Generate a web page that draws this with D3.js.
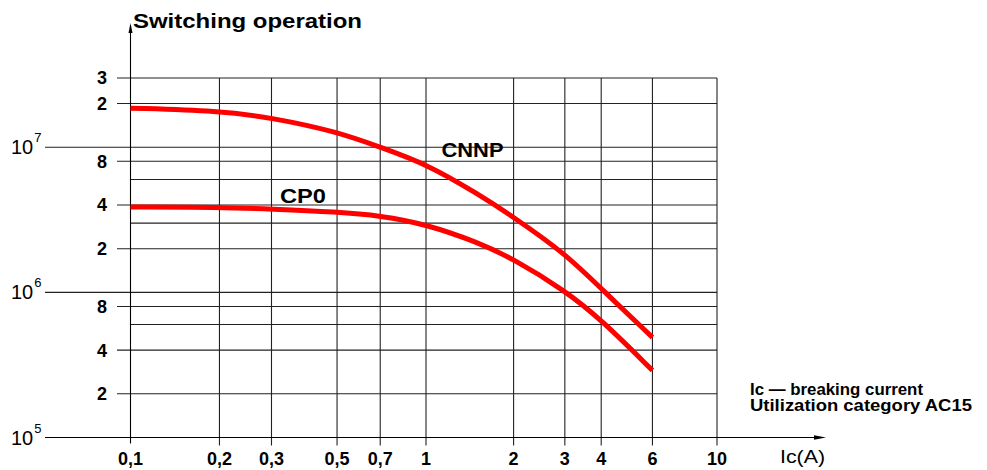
<!DOCTYPE html>
<html>
<head>
<meta charset="utf-8">
<script src="https://cdn.jsdelivr.net/npm/d3@7"></script>
<style>
  html, body { margin: 0; padding: 0; background: #fff; }
  svg { display: block; }
  text { font-family: "Liberation Sans", Arial, sans-serif; fill: #000; }
</style>
</head>
<body>
<svg id="chart" width="987" height="470"></svg>
<script>
// Breaking current Ic (A) at which the curves are sampled
const current = [0.1, 0.2, 0.3, 0.5, 0.7, 1, 1.5, 2, 3, 4, 6];
// Electrical life (switching operations) per contactor series
const cnnp = [1.86e7, 1.78e7, 1.60e7, 1.28e7, 1.0e7, 7.7e6, 4.8e6, 3.3e6, 1.86e6, 1.06e6, 4.9e5];
const cp0  = [3.88e6, 3.86e6, 3.75e6, 3.58e6, 3.38e6, 2.95e6, 2.22e6, 1.70e6, 1.03e6, 6.5e5, 2.9e5];

// Axis ticks
const xTicks = [0.1, 0.2, 0.3, 0.5, 0.7, 1, 2, 3, 4, 6, 10];
const xTickLabels = ["0,1", "0,2", "0,3", "0,5", "0,7", "1", "2", "3", "4", "6", "10"];
const yDecades = [1e5, 1e6, 1e7];
const yDecadeExp = ["5", "6", "7"];
const yMinor = [2e5, 4e5, 8e5, 2e6, 4e6, 8e6, 2e7, 3e7];
const yMinorLabels = ["2", "4", "8", "2", "4", "8", "2", "3"];
const yPlain = [6e5, 3e6, 6e6];

const svg = d3.select("#chart");

const x = d3.scaleLog().domain([0.1, 1, 10]).range([130.5, 426, 717]);
const y = d3.scaleLog().domain([1e5, 3e7]).range([437.5, 78]);

const gridColor = "#222";
const xLeft = x(0.1), xRight = x(10);
const yTop = y(3e7), yBottom = y(1e5);

// Horizontal grid lines
const grid = svg.append("g").attr("stroke", gridColor).attr("stroke-width", 1.1);
grid.selectAll("line.dec").data(yDecades.slice(1)).join("line")
  .attr("x1", 45).attr("x2", xRight)
  .attr("y1", d => y(d)).attr("y2", d => y(d));
grid.selectAll("line.minor").data(yMinor).join("line")
  .attr("x1", 117).attr("x2", xRight)
  .attr("y1", d => y(d)).attr("y2", d => y(d));
grid.selectAll("line.plain").data(yPlain).join("line")
  .attr("x1", xLeft).attr("x2", xRight)
  .attr("y1", d => y(d)).attr("y2", d => y(d));

// Vertical grid lines with tick stubs below the axis
grid.selectAll("line.v").data(xTicks.slice(1)).join("line")
  .attr("x1", d => x(d)).attr("x2", d => x(d))
  .attr("y1", yTop).attr("y2", yBottom + 8);

// X axis with arrow
svg.append("line").attr("stroke", "#000").attr("stroke-width", 1.1)
  .attr("x1", 45).attr("x2", 822).attr("y1", yBottom).attr("y2", yBottom);
svg.append("path").attr("fill", "#000")
  .attr("d", `M826,${yBottom} L814,${yBottom - 2.2} L814,${yBottom + 2.2} Z`);

// Y axis with arrow
svg.append("line").attr("stroke", "#000").attr("stroke-width", 1.1)
  .attr("x1", xLeft).attr("x2", xLeft).attr("y1", 26).attr("y2", yBottom + 6);
svg.append("path").attr("fill", "#000")
  .attr("d", `M${xLeft},23 L${xLeft - 2},33 L${xLeft + 2},33 Z`);

// Y tick labels
svg.append("g").selectAll("text").data(yMinor).join("text")
  .attr("x", 107).attr("y", d => y(d)).attr("dy", "0.36em")
  .attr("text-anchor", "end").attr("font-size", 18).attr("font-weight", "bold")
  .text((d, i) => yMinorLabels[i]);

const dec = svg.append("g").selectAll("text").data(yDecades).join("text")
  .attr("x", 11).attr("y", d => y(d) + 7)
  .attr("font-size", 20);
dec.append("tspan").text("10");
dec.append("tspan").attr("font-size", 13).attr("dy", -12).attr("dx", 1)
  .text((d, i) => yDecadeExp[i]);

// X tick labels
svg.append("g").selectAll("text").data(xTicks).join("text")
  .attr("x", d => x(d)).attr("y", 465)
  .attr("text-anchor", "middle").attr("font-size", 18).attr("font-weight", "bold")
  .text((d, i) => xTickLabels[i]);

// Curves, smoothed through the sampled points
const line = d3.line()
  .x(d => x(d[0])).y(d => y(d[1]))
  .curve(d3.curveBasis);

[cnnp, cp0].forEach(series => {
  svg.append("path")
    .datum(current.map((c, i) => [c, series[i]]))
    .attr("fill", "none").attr("stroke", "#ff0000").attr("stroke-width", 5)
    .attr("d", line);
});

// Texts
svg.append("text").attr("x", 133).attr("y", 27.5)
  .attr("font-size", 21).attr("font-weight", "bold")
  .attr("textLength", 229).attr("lengthAdjust", "spacingAndGlyphs")
  .text("Switching operation");

svg.append("text").attr("x", 441.5).attr("y", 157)
  .attr("font-size", 20).attr("font-weight", "bold")
  .attr("textLength", 62).attr("lengthAdjust", "spacingAndGlyphs")
  .text("CNNP");

svg.append("text").attr("x", 280).attr("y", 203)
  .attr("font-size", 20).attr("font-weight", "bold")
  .attr("textLength", 46).attr("lengthAdjust", "spacingAndGlyphs")
  .text("CP0");

svg.append("text").attr("x", 750).attr("y", 395)
  .attr("font-size", 16).attr("font-weight", "bold")
  .attr("textLength", 173).attr("lengthAdjust", "spacingAndGlyphs")
  .text("Ic — breaking current");

svg.append("text").attr("x", 750).attr("y", 411)
  .attr("font-size", 16).attr("font-weight", "bold")
  .attr("textLength", 222).attr("lengthAdjust", "spacingAndGlyphs")
  .text("Utilization category AC15");

svg.append("text").attr("x", 780).attr("y", 463)
  .attr("font-size", 18)
  .attr("textLength", 45).attr("lengthAdjust", "spacingAndGlyphs")
  .text("Ic(A)");
</script>
</body>
</html>
